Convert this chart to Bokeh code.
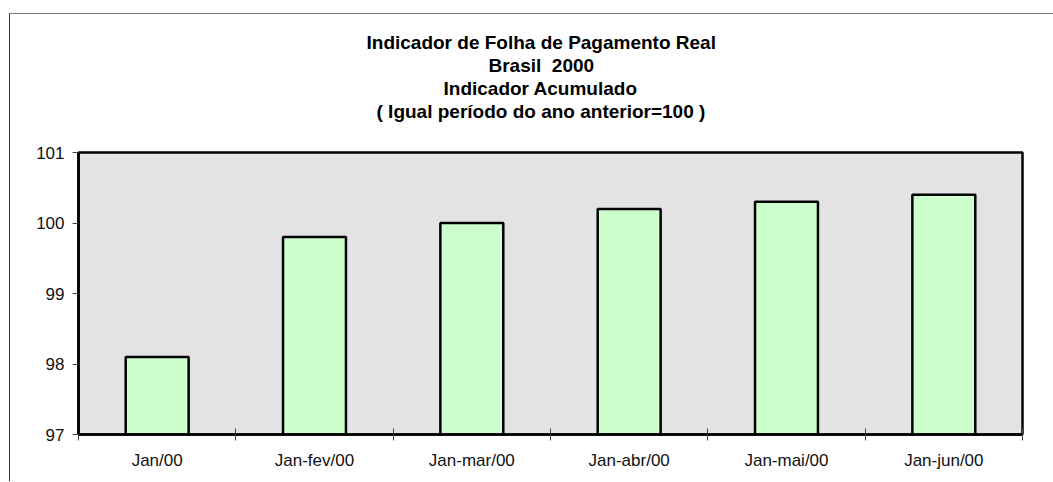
import numpy as np
from bokeh.plotting import figure
from bokeh.models import (Range1d, LinearAxis, FixedTicker, Title, ColumnDataSource,
                          CustomJSTickFormatter)
from bokeh.embed import file_html
from bokeh.resources import INLINE

categories = ["Jan/00", "Jan-fev/00", "Jan-mar/00", "Jan-abr/00", "Jan-mai/00", "Jan-jun/00"]
values = [98.1, 99.8, 100.0, 100.2, 100.3, 100.4]
y_ticks = [97, 98, 99, 100, 101]
title_lines = ["Indicador de Folha de Pagamento Real", "Brasil \u00a02000",
               "Indicador Acumulado", "( Igual período do ano anterior=100 )"]
# approximate rendered widths of the title lines (px), used to centre them at x=540
title_widths = [348, 105, 194, 327]

FONT = "Liberation Sans"
n = len(categories)
centers = [i + 0.5 for i in range(n)]
bounds = list(range(n + 1))
FRAME_LEFT_PAGE = 78
TITLE_CENTER_PAGE = 540

src = ColumnDataSource(dict(x=centers, top=values, cat=categories))

p = figure(frame_width=944, frame_height=282, output_backend="svg", toolbar_location=None,
           x_range=Range1d(0, n), y_range=Range1d(y_ticks[0], y_ticks[-1]),
           x_axis_location=None, y_axis_location=None,
           min_border_left=68, min_border_right=31, min_border_top=138, min_border_bottom=47)
p.margin = (13, 0, 0, 9)
p.styles = {"border-left": "1px solid #333333", "border-top": "1px solid #808080"}

p.background_fill_color = "#E3E3E3"
p.border_fill_color = "white"
p.outline_line_color = "black"
p.outline_line_width = 2.5
p.xgrid.visible = False
p.ygrid.visible = False

p.vbar(x="x", top="top", bottom=y_ticks[0], width=0.4, source=src,
       fill_color="#CCFFCC", line_color="black", line_width=2.5)

# y axis
yax = LinearAxis(ticker=FixedTicker(ticks=y_ticks))
yax.axis_line_color = "black"
yax.axis_line_width = 2.5
yax.major_tick_in = 0
yax.major_tick_out = 6
yax.major_tick_line_color = "#444444"
yax.minor_tick_line_color = None
yax.major_label_standoff = 8
yax.major_label_text_font = FONT
yax.major_label_text_font_size = "17px"
yax.major_label_text_color = "#111111"
p.add_layout(yax, "left")

# x axis: boundary ticks
xb = LinearAxis(ticker=FixedTicker(ticks=bounds),
                formatter=CustomJSTickFormatter(code="return ''"))
xb.axis_line_color = "black"
xb.axis_line_width = 2.5
xb.major_tick_in = 6
xb.major_tick_out = 6
xb.major_tick_line_color = "#444444"
xb.minor_tick_line_color = None
xb.major_label_text_font_size = "1px"
xb.major_label_standoff = 0
p.add_layout(xb, "below")

# x axis: category labels
xl = LinearAxis(ticker=FixedTicker(ticks=centers),
                major_label_overrides={c: cat for c, cat in zip(centers, categories)})
xl.axis_line_color = None
xl.major_tick_line_color = None
xl.minor_tick_line_color = None
xl.major_tick_in = 0
xl.major_tick_out = 0
xl.major_label_standoff = 10
xl.major_label_text_font = FONT
xl.major_label_text_font_size = "17px"
xl.major_label_text_color = "#111111"
p.add_layout(xl, "below")

# spacer between frame and titles
p.add_layout(Title(text=" ", text_font=FONT, text_font_size="16px", standoff=12), "above")
# titles (added nearest-first)
for line, w in reversed(list(zip(title_lines, title_widths))):
    t = Title(text=line, align="left",
              offset=round(TITLE_CENTER_PAGE - w / 2 - FRAME_LEFT_PAGE),
              text_font=FONT, text_font_size="19px", text_font_style="bold",
              text_color="black", standoff=0)
    p.add_layout(t, "above")

open("out.html", "w").write(file_html(p, INLINE))
